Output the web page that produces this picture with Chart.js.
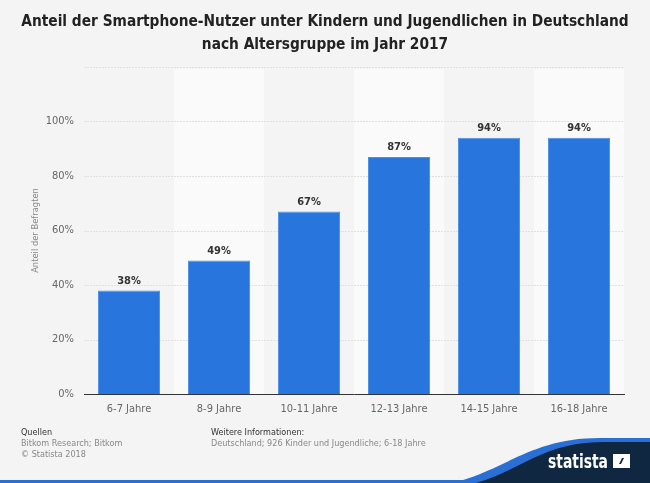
<!DOCTYPE html>
<html><head><meta charset="utf-8">
<script src="https://cdn.jsdelivr.net/npm/chart.js@4"></script>
<style>
html,body{margin:0;padding:0;background:#f4f4f4;}
#wrap{position:relative;width:650px;height:483px;overflow:hidden;background:#f4f4f4;font-family:"DejaVu Sans Condensed","DejaVu Sans",sans-serif;}
#title{position:absolute;left:0;top:10px;width:650px;text-align:center;font-weight:bold;font-size:15.3px;line-height:23px;color:#222;font-family:"DejaVu Sans Condensed","DejaVu Sans",sans-serif;}
canvas{position:absolute;left:0;top:0;}
.ft{position:absolute;font-size:9px;line-height:11px;color:#888;font-family:"DejaVu Sans Condensed","DejaVu Sans",sans-serif;}
.ft b{font-weight:normal;color:#333;}
#logo{position:absolute;left:0;top:0;}
</style></head>
<body><div id="wrap">
<canvas id="c" width="650" height="483"></canvas>
<div id="title">Anteil der Smartphone-Nutzer unter Kindern und Jugendlichen in Deutschland<br>nach Altersgruppe im Jahr 2017</div>
<div class="ft" style="left:21px;top:427px;"><b>Quellen</b><br>Bitkom Research; Bitkom<br>© Statista 2018</div>
<div class="ft" style="left:211px;top:427px;"><b>Weitere Informationen:</b><br>Deutschland; 926 Kinder und Jugendliche; 6-18 Jahre</div>
<svg id="logo" width="650" height="483" viewBox="0 0 650 483">
<rect x="0" y="480" width="650" height="3" fill="#2a6fd6"/>
<path d="M460 481 C 510 466, 535 438, 600 438 L650 438 L650 483 L460 483 Z" fill="#2a6fd6"/>
<path d="M476 483 C 522 470, 543 442, 604 442 L650 442 L650 483 Z" fill="#0f2741"/>
<text x="548" y="468" textLength="60" lengthAdjust="spacingAndGlyphs" fill="#ffffff" font-family="DejaVu Sans Condensed, DejaVu Sans, sans-serif" font-weight="bold" font-size="19">statista</text>
<path d="M613 454 L630 454 L630 458 L622 458 L617 468 L613 468 Z M630 468 L613 468 L613 464 L621 464 L626 454 L630 454 Z" fill="#ffffff"/>
</svg>
</div>
<script>
const categories = ["6-7 Jahre","8-9 Jahre","10-11 Jahre","12-13 Jahre","14-15 Jahre","16-18 Jahre"];
const shares = [38,49,67,87,94,94];
const yTicks = [0,20,40,60,80,100,120];
const FONT = '"DejaVu Sans Condensed", "DejaVu Sans", sans-serif';

const bands = {
  id:'bands',
  beforeDatasetsDraw(chart){
    const {ctx, chartArea:a, scales:{x}} = chart;
    ctx.save();
    const w = (a.right-a.left)/categories.length;
    categories.forEach((c,i)=>{
      const cx = x.getPixelForValue(i);
      ctx.fillStyle = i%2 ? '#fafafa' : '#f4f4f4';
      ctx.fillRect(cx-w/2, a.top+2, w, a.bottom-a.top-2);
    });
    const y = chart.scales.y;
    ctx.strokeStyle='#e0e0e0'; ctx.lineWidth=1; ctx.setLineDash([2,1]);
    yTicks.forEach(v=>{ if(v===0) return; const py=Math.round(y.getPixelForValue(v))+0.5; ctx.beginPath(); ctx.moveTo(a.left,py); ctx.lineTo(a.right,py); ctx.stroke();});
    ctx.restore();
  }
};
const labels = {
  id:'labels',
  afterDatasetsDraw(chart){
    const ctx=chart.ctx; ctx.save();
    ctx.font='bold 11px '+FONT; ctx.fillStyle='#333'; ctx.textAlign='center'; ctx.textBaseline='bottom';
    chart.getDatasetMeta(0).data.forEach((b,i)=>{ ctx.fillText(shares[i]+'%', b.x, b.y-4); });
    ctx.restore();
  }
};
new Chart(document.getElementById('c'),{
  type:'bar',
  data:{labels:categories,datasets:[{data:shares,backgroundColor:'#2876dd',borderColor:'#4d8fe4',borderWidth:1,barPercentage:0.69,categoryPercentage:1}]},
  options:{
    responsive:false,animation:false,
    layout:{padding:{left:0,right:26,top:67,bottom:59}},
    plugins:{legend:{display:false},tooltip:{enabled:false}},
    scales:{
      x:{grid:{display:false},border:{display:true,color:'#333',width:1},
         ticks:{color:'#666',font:{size:11,family:FONT},padding:1},
         afterFit(s){s.height=30;}},
      y:{min:0,max:120,grid:{display:false},border:{display:false},
         afterBuildTicks(s){s.ticks=yTicks.map(v=>({value:v}));},
         ticks:{color:'#666',font:{size:11,family:FONT},padding:2,callback:v=>v>100?'':v+'%'},
         title:{display:true,text:'Anteil der Befragten',color:'#888',font:{size:9.3,family:FONT},padding:{top:30,bottom:0}},
         afterFit(s){s.width=84;}}
    }
  },
  plugins:[bands,labels]
});
</script>
</body></html>
